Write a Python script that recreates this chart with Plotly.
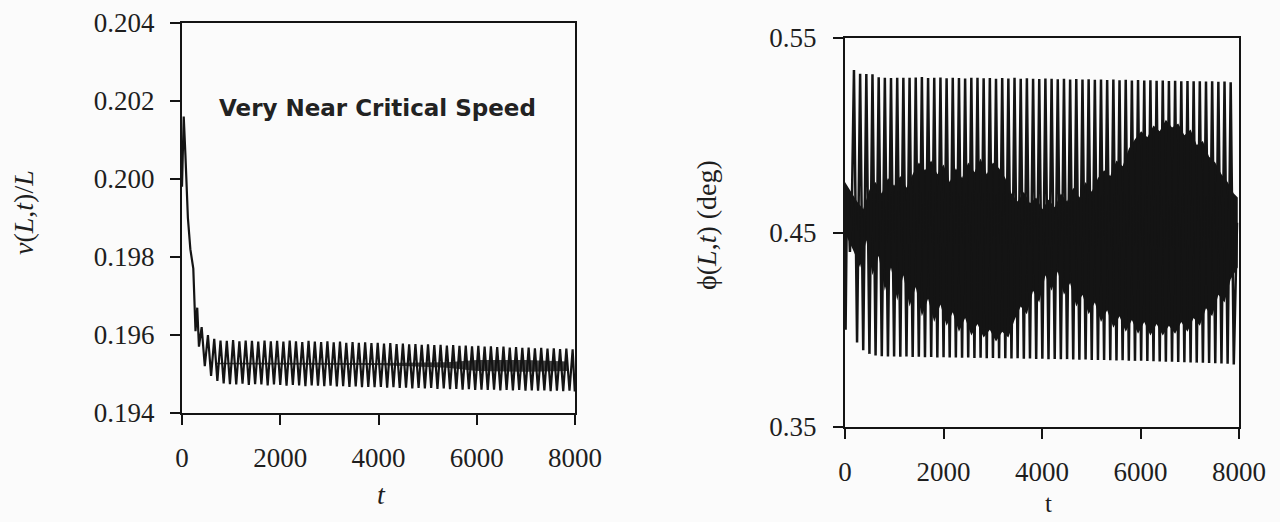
import plotly.graph_objects as go

# ---------------- data ----------------
x_ticks = [0, 2000, 4000, 6000, 8000]
left_y_ticks = [0.194, 0.196, 0.198, 0.200, 0.202, 0.204]
right_y_ticks = [0.35, 0.45, 0.55]

# Left panel: v(L,t)/L, initial transient
left_pre_t = [0, 35, 70, 120, 170, 230, 275, 310, 345]
left_pre_v = [0.1998, 0.2016, 0.2006, 0.1990, 0.1982, 0.1977, 0.1961, 0.1967, 0.1957]

# Left panel: oscillation crests
left_peak_t = [400, 528, 656, 784, 912, 1040, 1168, 1296, 1424, 1552,
               1680, 1808, 1936, 2064, 2192, 2320, 2448, 2576, 2704, 2832,
               2960, 3088, 3216, 3344, 3472, 3600, 3728, 3856, 3984, 4112,
               4240, 4368, 4496, 4624, 4752, 4880, 5008, 5136, 5264, 5392,
               5520, 5648, 5776, 5904, 6032, 6160, 6288, 6416, 6544, 6672,
               6800, 6928, 7056, 7184, 7312, 7440, 7568, 7696, 7824, 7952]
left_peak_v = [0.19620, 0.19600, 0.19590, 0.19586, 0.19585, 0.19587, 0.19584, 0.19586, 0.19585, 0.19583,
               0.19586, 0.19584, 0.19585, 0.19583, 0.19586, 0.19584, 0.19582, 0.19585, 0.19583, 0.19582,
               0.19584, 0.19581, 0.19583, 0.19580, 0.19582, 0.19580, 0.19581, 0.19579, 0.19580, 0.19578,
               0.19579, 0.19577, 0.19578, 0.19576, 0.19577, 0.19575, 0.19576, 0.19574, 0.19575, 0.19573,
               0.19574, 0.19572, 0.19573, 0.19571, 0.19572, 0.19570, 0.19571, 0.19569, 0.19570, 0.19568,
               0.19569, 0.19567, 0.19568, 0.19566, 0.19567, 0.19565, 0.19566, 0.19564, 0.19565, 0.19563]
# Left panel: oscillation troughs
left_trough_t = [464, 592, 720, 848, 976, 1104, 1232, 1360, 1488, 1616,
                 1744, 1872, 2000, 2128, 2256, 2384, 2512, 2640, 2768, 2896,
                 3024, 3152, 3280, 3408, 3536, 3664, 3792, 3920, 4048, 4176,
                 4304, 4432, 4560, 4688, 4816, 4944, 5072, 5200, 5328, 5456,
                 5584, 5712, 5840, 5968, 6096, 6224, 6352, 6480, 6608, 6736,
                 6864, 6992, 7120, 7248, 7376, 7504, 7632, 7760, 7888, 7995]
left_trough_v = [0.19520, 0.19495, 0.19482, 0.19476, 0.19474, 0.19473, 0.19475, 0.19472, 0.19474, 0.19473,
                 0.19471, 0.19473, 0.19472, 0.19470, 0.19472, 0.19471, 0.19469, 0.19471, 0.19470, 0.19469,
                 0.19470, 0.19468, 0.19469, 0.19467, 0.19468, 0.19466, 0.19467, 0.19466, 0.19467, 0.19465,
                 0.19466, 0.19464, 0.19465, 0.19463, 0.19464, 0.19463, 0.19464, 0.19462, 0.19463, 0.19461,
                 0.19462, 0.19460, 0.19461, 0.19459, 0.19460, 0.19459, 0.19460, 0.19458, 0.19459, 0.19458,
                 0.19459, 0.19457, 0.19458, 0.19457, 0.19458, 0.19456, 0.19457, 0.19456, 0.19457, 0.19455]
# Left panel: dense mid-level band
left_band_t = [700, 2000, 4000, 5400, 6000, 7000, 7850]
left_band_top = [0.19529, 0.19529, 0.19528, 0.19530, 0.19536, 0.19536, 0.19532]
left_band_bot = [0.19525, 0.19525, 0.19523, 0.19516, 0.19508, 0.19506, 0.19508]

# Right panel: phi(L,t), initial transient
right_pre_t = [0, 12, 30, 60, 100, 140]
right_pre_v = [0.458, 0.400, 0.445, 0.470, 0.440, 0.465]
# Right panel: upward spikes
right_peak_t = [182, 307, 433, 558, 684, 809, 934, 1060, 1185, 1311,
                1436, 1561, 1687, 1812, 1938, 2063, 2188, 2314, 2439, 2565,
                2690, 2815, 2941, 3066, 3192, 3317, 3442, 3568, 3693, 3819,
                3944, 4069, 4195, 4320, 4446, 4571, 4696, 4822, 4947, 5073,
                5198, 5323, 5449, 5574, 5700, 5825, 5950, 6076, 6201, 6327,
                6452, 6577, 6703, 6828, 6954, 7079, 7204, 7330, 7455, 7581,
                7706, 7831]
right_peak_v = [0.5335, 0.5316, 0.5315, 0.5313, 0.5298, 0.5296, 0.5294, 0.5295, 0.5296, 0.5295,
                0.5297, 0.5299, 0.5294, 0.5296, 0.5297, 0.5293, 0.5296, 0.5294, 0.5292, 0.5296,
                0.5295, 0.5293, 0.5294, 0.5291, 0.5294, 0.5292, 0.5295, 0.5290, 0.5293, 0.5291,
                0.5289, 0.5292, 0.5290, 0.5288, 0.5291, 0.5287, 0.5289, 0.5286, 0.5288, 0.5285,
                0.5287, 0.5284, 0.5286, 0.5283, 0.5285, 0.5282, 0.5284, 0.5281, 0.5283, 0.5280,
                0.5281, 0.5279, 0.5280, 0.5278, 0.5279, 0.5277, 0.5278, 0.5276, 0.5277, 0.5275,
                0.5276, 0.5272]
# Right panel: downward spikes
right_trough_t = [245, 370, 496, 621, 747, 872, 997, 1123, 1248, 1374,
                  1499, 1624, 1750, 1875, 2001, 2126, 2251, 2377, 2502, 2628,
                  2753, 2878, 3004, 3129, 3255, 3380, 3505, 3631, 3756, 3882,
                  4007, 4132, 4258, 4383, 4509, 4634, 4759, 4885, 5010, 5136,
                  5261, 5386, 5512, 5637, 5763, 5888, 6013, 6139, 6264, 6390,
                  6515, 6640, 6766, 6891, 7017, 7142, 7267, 7393, 7518, 7644,
                  7769, 7894]
right_trough_v = [0.3935, 0.3895, 0.3876, 0.3868, 0.3864, 0.3862, 0.3863, 0.3861, 0.3862, 0.3860,
                  0.3861, 0.3859, 0.3860, 0.3858, 0.3859, 0.3857, 0.3858, 0.3856, 0.3857, 0.3855,
                  0.3856, 0.3854, 0.3855, 0.3853, 0.3854, 0.3852, 0.3853, 0.3851, 0.3852, 0.3850,
                  0.3851, 0.3849, 0.3850, 0.3848, 0.3849, 0.3847, 0.3846, 0.3847, 0.3845, 0.3844,
                  0.3845, 0.3843, 0.3842, 0.3843, 0.3841, 0.3840, 0.3841, 0.3839, 0.3838, 0.3837,
                  0.3836, 0.3835, 0.3834, 0.3833, 0.3832, 0.3831, 0.3830, 0.3829, 0.3828, 0.3827,
                  0.3825, 0.3822]
right_end_t = [7960]
right_end_v = [0.455]
# Right panel: upper edge of the dense (unresolved) fast oscillation, at each upper gap
right_band_top = [0.466, 0.462, 0.472, 0.476, 0.470, 0.478, 0.474, 0.479, 0.473, 0.480,
                  0.486, 0.482, 0.487, 0.480, 0.485, 0.476, 0.483, 0.478, 0.486, 0.481,
                  0.488, 0.480, 0.486, 0.483, 0.478, 0.470, 0.466, 0.471, 0.465, 0.468,
                  0.462, 0.467, 0.463, 0.470, 0.466, 0.473, 0.468, 0.476, 0.471, 0.478,
                  0.482, 0.479, 0.487, 0.484, 0.493, 0.498, 0.502, 0.499, 0.505, 0.502,
                  0.508, 0.504, 0.506, 0.500, 0.503, 0.495, 0.497, 0.489, 0.486, 0.480,
                  0.476, 0.470]
# Right panel: lower edge of the dense band, at each lower gap
right_band_bot = [0.440, 0.432, 0.446, 0.428, 0.438, 0.420, 0.432, 0.415, 0.428, 0.412,
                  0.422, 0.407, 0.416, 0.404, 0.413, 0.402, 0.409, 0.399, 0.406, 0.397,
                  0.403, 0.396, 0.400, 0.394, 0.399, 0.396, 0.405, 0.412, 0.408, 0.420,
                  0.414, 0.428, 0.420, 0.430, 0.418, 0.424, 0.412, 0.418, 0.408, 0.414,
                  0.404, 0.410, 0.401, 0.407, 0.399, 0.405, 0.398, 0.404, 0.397, 0.403,
                  0.397, 0.402, 0.398, 0.404, 0.399, 0.406, 0.402, 0.411, 0.407, 0.418,
                  0.414, 0.426]
right_band_start = [0, 0.476, 0.450]   # t, top, bottom
right_band_end = [7975, 0.468, 0.432]

# ---------------- build series ----------------
def interleave(a_t, a_v, b_t, b_v):
    t, v = [], []
    for i in range(max(len(a_t), len(b_t))):
        if i < len(a_t):
            t.append(a_t[i]); v.append(a_v[i])
        if i < len(b_t):
            t.append(b_t[i]); v.append(b_v[i])
    return t, v

lt, lv = interleave(left_peak_t, left_peak_v, left_trough_t, left_trough_v)
left_t = left_pre_t + lt
left_v = left_pre_v + lv

rt, rv = interleave(right_peak_t, right_peak_v, right_trough_t, right_trough_v)
right_t = right_pre_t + rt + right_end_t
right_v = right_pre_v + rv + right_end_v

# dense band polygon: upper edge dips into each upper gap, lower edge rises into each lower gap
band_x = ([right_band_start[0]] + right_trough_t + [right_band_end[0]]
          + [right_band_end[0]] + right_peak_t[::-1] + [right_band_start[0]])
band_y = ([right_band_start[1]] + right_band_top + [right_band_end[1]]
          + [right_band_end[2]] + right_band_bot[::-1] + [right_band_start[2]])

INK = "#141414"
BG = "#fbfbfb"
fig = go.Figure()

fig.add_trace(go.Scatter(
    x=left_band_t + left_band_t[::-1], y=left_band_top + left_band_bot[::-1],
    fill="toself", fillcolor="rgba(25,25,25,0.8)", line=dict(width=0),
    mode="lines", xaxis="x", yaxis="y", hoverinfo="skip", showlegend=False))
fig.add_trace(go.Scatter(
    x=left_t, y=left_v, mode="lines", line=dict(color=INK, width=2.2),
    xaxis="x", yaxis="y", hoverinfo="skip", showlegend=False))

fig.add_trace(go.Scatter(
    x=band_x, y=band_y, fill="toself", fillcolor=INK, line=dict(width=0),
    mode="lines", xaxis="x2", yaxis="y2", hoverinfo="skip", showlegend=False))
fig.add_trace(go.Scatter(
    x=right_t, y=right_v, mode="lines", line=dict(color=INK, width=2.5),
    xaxis="x2", yaxis="y2", hoverinfo="skip", showlegend=False))

W, H = 1280, 522
tickfont = dict(family="Liberation Serif", size=27, color="#1e1e1e")
axis_common = dict(showline=True, linecolor=INK, linewidth=2, mirror=True,
                   ticks="outside", ticklen=10, tickwidth=2, tickcolor=INK,
                   showgrid=False, zeroline=False, tickfont=tickfont, automargin=False)

fig.update_layout(
    width=W, height=H, margin=dict(l=0, r=0, t=0, b=0, autoexpand=False),
    paper_bgcolor=BG, plot_bgcolor=BG, showlegend=False,
    xaxis=dict(domain=[182 / W, 575 / W], range=[0, 8000], tickvals=x_ticks,
               ticklabelstandoff=10, anchor="y", **axis_common),
    yaxis=dict(domain=[1 - 413 / H, 1 - 23 / H], range=[0.194, 0.204],
               tickvals=left_y_ticks, tickformat=".3f", ticklabelstandoff=10,
               anchor="x", **axis_common),
    xaxis2=dict(domain=[845 / W, 1239 / W], range=[0, 8000], tickvals=x_ticks,
                ticklabelstandoff=10, anchor="y2", **axis_common),
    yaxis2=dict(domain=[1 - 427 / H, 1 - 38 / H], range=[0.35, 0.55],
                tickvals=right_y_ticks, tickformat=".2f", ticklabelstandoff=11,
                anchor="x2", **axis_common),
)

def px(x, y):
    return dict(x=x / W, y=1 - y / H, xref="paper", yref="paper")

serif = dict(family="Liberation Serif", size=28, color="#1e1e1e")
fig.add_annotation(text="Very Near Critical Speed", showarrow=False,
                   font=dict(family="DejaVu Sans", size=23, color="#222222", weight="bold"),
                   xanchor="center", yanchor="middle", **px(377, 108))
fig.add_annotation(text="<i>v</i>(<i>L</i>,<i>t</i>)/<i>L</i>", textangle=-90, showarrow=False,
                   font=serif, xanchor="center", yanchor="middle", **px(23, 213))
fig.add_annotation(text="ϕ(<i>L</i>,<i>t</i>) (deg)", textangle=-90, showarrow=False,
                   font=serif, xanchor="center", yanchor="middle", **px(706, 225))
fig.add_annotation(text="<i>t</i>", showarrow=False, font=serif,
                   xanchor="center", yanchor="middle", **px(381, 494))
fig.add_annotation(text="t", showarrow=False,
                   font=dict(family="Liberation Serif", size=25, color="#1e1e1e"),
                   xanchor="center", yanchor="middle", **px(1048, 503))

fig.write_html("out.html")
